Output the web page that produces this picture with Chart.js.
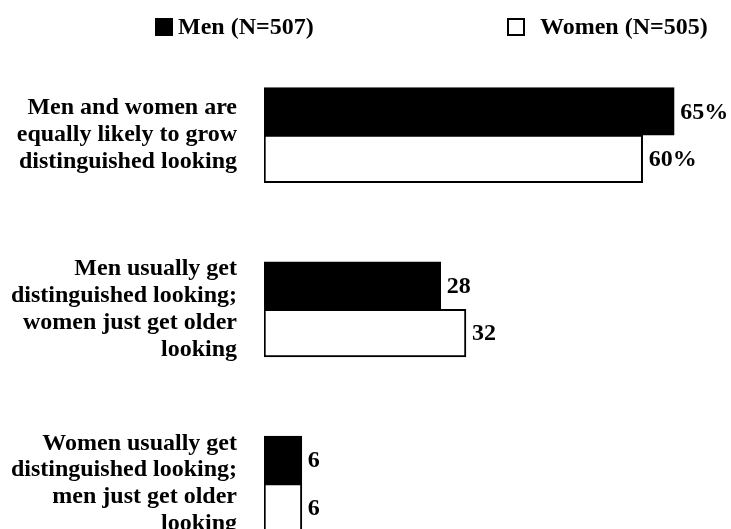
<!DOCTYPE html>
<html lang="en">
<head>
  <meta charset="UTF-8" />
  <title>Distinguished looking</title>
  <script src="https://cdn.jsdelivr.net/npm/chart.js"></script>
  <style>
    body { margin: 0; background: #fff; font-family: "Liberation Serif", "Times New Roman", serif; }
    #wrap { position: relative; width: 731px; height: 529px; overflow: hidden; }
    .key { position: absolute; top: 18px; width: 18px; height: 18px; box-sizing: border-box; }
    .key-text { position: absolute; top: 10px; font-size: 24px; font-weight: bold; line-height: 32px; color: #000; white-space: nowrap; }
  </style>
</head>
<body>
  <div id="wrap">
    <!-- legend -->
    <div class="key" style="left:155px; background:#000;"></div>
    <div class="key-text" id="menLabel" style="left:178px;"></div>
    <div class="key" style="left:507px; background:#fff; border:2px solid #000;"></div>
    <div class="key-text" id="womenLabel" style="left:540px;"></div>
    <canvas id="chart" width="731" height="529"></canvas>
  </div>

  <script>
    // data
    const categories = [
      ['Men and women are', 'equally likely to grow', 'distinguished looking'],
      ['Men usually get', 'distinguished looking;', 'women just get older', 'looking'],
      ['Women usually get', 'distinguished looking;', 'men just get older', 'looking']
    ];
    const seriesNames = ['Men (N=507)', 'Women (N=505)'];
    const menValues = [65, 28, 6];
    const womenValues = [60, 32, 6];
    const valueSuffix = ['%', '', ''];

    document.getElementById('menLabel').textContent = seriesNames[0];
    document.getElementById('womenLabel').textContent = seriesNames[1];

    const serif = '"Liberation Serif", "Times New Roman", serif';

    // value labels at the end of each bar
    const barValues = {
      id: 'barValues',
      afterDatasetsDraw(chart) {
        const ctx = chart.ctx;
        ctx.save();
        ctx.font = 'bold 24px ' + serif;
        ctx.fillStyle = '#000';
        ctx.textAlign = 'left';
        ctx.textBaseline = 'middle';
        chart.data.datasets.forEach((ds, di) => {
          chart.getDatasetMeta(di).data.forEach((bar, i) => {
            ctx.fillText(ds.data[i].x + valueSuffix[i], bar.x + 6, bar.y + 1);
          });
        });
        ctx.restore();
      }
    };

    const toPoints = vals => vals.map((v, i) => ({ x: v, y: i }));

    new Chart(document.getElementById('chart'), {
      type: 'bar',
      data: {
        datasets: [
          {
            label: seriesNames[0],
            data: toPoints(menValues),
            backgroundColor: '#000',
            borderColor: '#000',
            borderWidth: 2,
            borderSkipped: false
          },
          {
            label: seriesNames[1],
            data: toPoints(womenValues),
            backgroundColor: '#fff',
            borderColor: '#000',
            borderWidth: 2,
            borderSkipped: false
          }
        ]
      },
      options: {
        indexAxis: 'y',
        responsive: false,
        animation: false,
        barThickness: 47.5,
        layout: { padding: { top: 48, right: 0, bottom: 0, left: 0 } },
        plugins: {
          legend: { display: false },
          tooltip: { enabled: false }
        },
        scales: {
          x: {
            type: 'linear',
            min: 0,
            max: 74,
            display: false
          },
          y: {
            type: 'linear',
            reverse: true,
            offset: false,
            min: -0.5,
            max: 2.26,
            grid: { display: false, drawTicks: false },
            border: { display: false },
            afterBuildTicks: scale => {
              scale.ticks = categories.map((c, i) => ({ value: i }));
            },
            afterFit: scale => {
              // fixed label column, and let the last group run off the bottom
              scale.width = 264;
              scale.paddingTop = 0;
              scale.paddingBottom = 0;
            },
            ticks: {
              autoSkip: false,
              padding: 27,
              color: '#000',
              font: { family: serif, size: 24, weight: 'bold', lineHeight: 1.12 },
              callback: v => categories[v]
            }
          }
        }
      },
      plugins: [barValues]
    });
  </script>
</body>
</html>
